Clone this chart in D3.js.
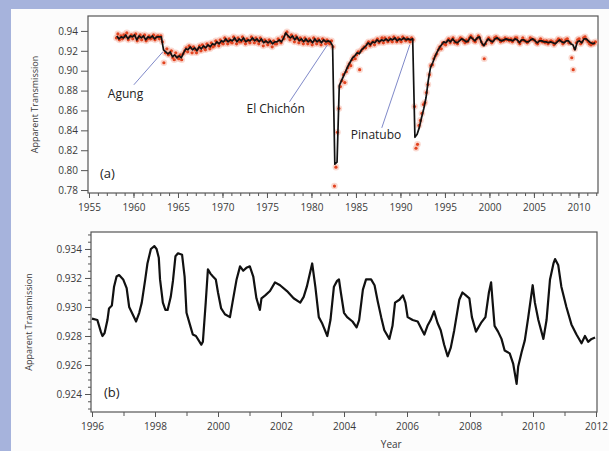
<!DOCTYPE html>
<html><head><meta charset="utf-8">
<script src="https://cdn.jsdelivr.net/npm/d3@7"></script>
<style>body{margin:0;background:#a6b3dc;} svg{display:block;font-family:"Open Sans",sans-serif;}</style>
</head><body><svg id="c" width="609" height="451"></svg>
<script>
// ---------- DATA ----------
// Panel (a): smoothed series, one row per year, 4 values (quarters), starting 1958
const lineStartYear = 1958;
const lineRows = [
[.935,.932,.934,.933],[.936,.932,.935,.934],[.936,.931,.935,.933],[.935,.931,.934,.933],[.935,.932,.934,.934],
[.934,.921,.919,.917],[.919,.914,.916,.913],[.915,.913,.918,.922],[.921,.924,.921,.923],[.920,.924,.922,.925],
[.923,.926,.924,.927],[.926,.929,.927,.930],[.929,.932,.929,.931],[.930,.933,.929,.932],[.930,.933,.929,.931],
[.930,.933,.930,.932],[.929,.932,.928,.930],[.928,.930,.927,.929],[.929,.931,.929,.933],[.938,.935,.933,.935],
[.931,.934,.930,.932],[.929,.932,.929,.931],[.928,.932,.929,.931],[.928,.931,.929,.930],[.929,.925,.806,.808],
[.885,.890,.895,.900],[.905,.909,.913,.915],[.918,.917,.921,.923],[.925,.928,.926,.929],[.928,.931,.929,.931],
[.930,.932,.930,.932],[.931,.933,.930,.932],[.931,.933,.931,.932],[.931,.932,.833,.836],[.843,.853,.862,.873],
[.890,.903,.908,.914],[.919,.923,.926,.929],[.928,.931,.929,.932],[.929,.928,.930,.932],[.931,.929,.930,.934],
[.932,.930,.933,.934],[.928,.925,.929,.932],[.930,.929,.932,.933],[.931,.930,.931,.932],[.931,.931,.930,.932],
[.931,.928,.931,.931],[.929,.929,.931,.932],[.930,.928,.930,.930],[.929,.929,.928,.929],[.928,.927,.929,.931],
[.929,.928,.930,.930],[.927,.926,.921,.929],[.930,.928,.932,.932],[.930,.928,.927,.928]
];
// Panel (a): individual observations, one row per year, 6 values (bi-monthly), starting 1958
const dotStartYear = 1958;
const dotRows = [
[.933,.937,.931,.935,.932,.936],[.934,.938,.931,.934,.936,.932],[.935,.937,.930,.933,.936,.931],
[.934,.936,.930,.932,.935,.932],[.933,.936,.931,.934,.935,.932],[.935,.929,.908,.918,.922,.916],
[.917,.920,.913,.911,.918,.914],[.912,.916,.911,.917,.920,.923],[.919,.925,.923,.918,.924,.921],
[.918,.922,.925,.920,.926,.923],[.921,.927,.925,.922,.928,.924],[.925,.930,.928,.925,.931,.928],
[.927,.933,.930,.927,.932,.929],[.928,.934,.931,.927,.933,.929],[.929,.934,.930,.927,.932,.930],
[.928,.934,.931,.928,.933,.930],[.927,.933,.930,.925,.931,.929],[.926,.931,.928,.924,.930,.927],
[.927,.932,.930,.928,.934,.932],[.937,.939,.934,.931,.936,.933],[.929,.935,.932,.928,.933,.930],
[.927,.933,.930,.927,.932,.929],[.926,.933,.930,.927,.932,.929],[.926,.932,.930,.927,.931,.928],
[.927,.930,.924,.784,.803,.838],[.862,.884,.890,.896,.888,.899],[.903,.907,.905,.911,.914,.912],
[.916,.919,.901,.920,.922,.924],[.923,.927,.929,.925,.928,.930],[.926,.930,.932,.928,.930,.933],
[.928,.933,.931,.929,.933,.931],[.929,.934,.932,.929,.933,.931],[.929,.934,.932,.930,.933,.931],
[.929,.933,.931,.864,.822,.826],[.845,.850,.857,.866,.868,.878],[.886,.896,.905,.906,.912,.915],
[.917,.921,.924,.922,.928,.927],[.926,.930,.932,.928,.931,.933],[.928,.930,.927,.931,.933,.932],
[.930,.928,.931,.929,.933,.935],[.933,.930,.929,.932,.935,.933],[.929,.926,.912,.927,.931,.933],
[.931,.928,.930,.933,.934,.932],[.932,.929,.931,.930,.933,.931],[.932,.930,.932,.929,.931,.933],
[.933,.929,.927,.930,.933,.930],[.930,.928,.930,.933,.932,.931],[.931,.928,.927,.930,.932,.929],
[.930,.928,.930,.927,.929,.930],[.929,.926,.928,.930,.932,.930],[.931,.927,.929,.931,.932,.928],
[.928,.913,.901,.922,.928,.931],[.932,.927,.929,.933,.934,.931],[.929,.927,.926,.928,.927,.929]
];
// Volcano annotations (eruption point on the curve)
const volcanoNames = ["Agung", "El Chichón", "Pinatubo"];
const volcanoYears = [1963.3, 1981.8, 1991.05];
const volcanoValues = [0.919, 0.926, 0.926];

// Panel (b): 1996-2012 detail
const bYears = [1996.0,1996.17,1996.28,1996.33,1996.4,1996.49,1996.54,1996.63,1996.7,1996.78,1996.86,1996.99,1997.1,1997.18,1997.29,1997.4,1997.5,1997.58,1997.69,1997.76,1997.87,1997.98,1998.05,1998.12,1998.16,1998.25,1998.33,1998.4,1998.5,1998.57,1998.65,1998.73,1998.86,1998.94,1999.0,1999.12,1999.2,1999.3,1999.47,1999.52,1999.61,1999.68,1999.76,1999.84,1999.93,2000.0,2000.1,2000.22,2000.38,2000.46,2000.59,2000.7,2000.8,2000.9,2001.01,2001.12,2001.22,2001.33,2001.38,2001.5,2001.65,2001.81,2001.97,2002.19,2002.4,2002.61,2002.72,2002.82,2002.99,
2003.09,2003.2,2003.3,2003.47,2003.57,2003.68,2003.78,2003.84,2003.9,2004.0,2004.1,2004.27,2004.4,2004.48,2004.6,2004.7,2004.86,2004.97,2005.07,2005.18,2005.28,2005.44,2005.54,2005.62,2005.76,2005.87,2005.95,2006.02,2006.18,2006.34,2006.48,2006.55,2006.65,2006.75,2006.86,2006.97,2007.07,2007.18,2007.29,2007.39,2007.5,2007.66,2007.76,2007.87,2007.98,2008.06,2008.19,2008.35,2008.49,2008.6,2008.67,2008.72,2008.78,2008.89,2009.0,2009.1,2009.26,2009.37,2009.48,2009.53,2009.64,2009.74,2009.85,2009.99,2010.06,2010.17,2010.33,2010.43,2010.54,2010.65,2010.7,2010.8,2010.9,2011.06,2011.22,2011.38,2011.54,2011.65,2011.75,2011.86,2011.97];
const bValues = [.9292,.9291,.9283,.9280,.9282,.9291,.9299,.9301,.9314,.9321,.9322,.9319,.9313,.9300,.9295,.9290,.9296,.9303,.9319,.9330,.9340,.9342,.9340,.9334,.9319,.9303,.9298,.9298,.9307,.9318,.9335,.9337,.9336,.9321,.9296,.9287,.9281,.9280,.9274,.9276,.9303,.9326,.9323,.9321,.9319,.9310,.9299,.9295,.9293,.9303,.9319,.9328,.9325,.9327,.9328,.9321,.9306,.9298,.9306,.9308,.9311,.9317,.9315,.9311,.9306,.9303,.9307,.9314,.9330,
.9314,.9293,.9289,.9280,.9291,.9314,.9318,.9319,.9310,.9296,.9293,.9290,.9286,.9291,.9312,.9319,.9319,.9315,.9304,.9293,.9284,.9278,.9287,.9303,.9305,.9308,.9303,.9293,.9291,.9290,.9284,.9281,.9287,.9291,.9297,.9289,.9284,.9274,.9266,.9272,.9284,.9305,.9310,.9308,.9306,.9293,.9283,.9289,.9293,.9310,.9317,.9303,.9287,.9283,.9278,.9270,.9268,.9261,.9247,.9259,.9269,.9277,.9293,.9315,.9303,.9291,.9278,.9291,.9319,.9330,.9333,.9329,.9314,.9300,.9288,.9281,.9275,.9280,.9276,.9278,.9279];

// Axis ticks
const aYTicks = [0.78,0.80,0.82,0.84,0.86,0.88,0.90,0.92,0.94];
const aXTicks = [1955,1960,1965,1970,1975,1980,1985,1990,1995,2000,2005,2010];
const bYTicks = [0.924,0.926,0.928,0.930,0.932,0.934];
const bXTicks = [1996,1998,2000,2002,2004,2006,2008,2010,2012];

// ---------- DRAW ----------
const W = 609, H = 451;
const svg = d3.select("#c");
svg.append("rect").attr("width", W).attr("height", H).attr("fill", "#a6b3dc");
svg.append("rect").attr("x", 11).attr("y", 9).attr("width", W - 11).attr("height", H - 9).attr("fill", "#fcfcfc");

const axisColor = "#555", textColor = "#3a3a3a";

function styleAxis(g, fs) {
  g.select(".domain").remove();
  g.selectAll("line").attr("stroke", axisColor).attr("stroke-width", 1);
  g.selectAll("text").attr("fill", textColor).style("font-size", fs + "px").style("font-family", '"Open Sans",sans-serif');
}

// ----- Panel a -----
const xA = d3.scaleLinear().domain([1955, 2012.2]).range([89, 598]);
const yA = d3.scaleLinear().domain([0.777, 0.955]).range([193, 16]);

const lineData = [];
lineRows.forEach((row, i) => row.forEach((v, k) => lineData.push([lineStartYear + i + 0.125 + 0.25 * k, v])));
const dotData = [];
dotRows.forEach((row, i) => row.forEach((v, k) => dotData.push([dotStartYear + i + (2 * k + 1) / 12, v])));

svg.append("rect").attr("x", xA.range()[0] - 1).attr("y", yA.range()[1])
  .attr("width", xA.range()[1] - xA.range()[0] + 1).attr("height", yA.range()[0] - yA.range()[1])
  .attr("fill", "#fff").attr("stroke", axisColor).attr("stroke-width", 1.2);

const gA = svg.append("g");
gA.selectAll("circle.halo").data(dotData).join("circle").attr("class", "halo")
  .attr("cx", d => xA(d[0])).attr("cy", d => yA(d[1])).attr("r", 3.3)
  .attr("fill", "#f3a08c").attr("opacity", 0.4);
gA.selectAll("circle.dot").data(dotData).join("circle").attr("class", "dot")
  .attr("cx", d => xA(d[0])).attr("cy", d => yA(d[1])).attr("r", 1.6)
  .attr("fill", "#e2431f");
gA.append("path").datum(lineData)
  .attr("d", d3.line().x(d => xA(d[0])).y(d => yA(d[1])))
  .attr("fill", "none").attr("stroke", "#111").attr("stroke-width", 1.7).attr("stroke-linejoin", "round");

// axes a
const yAxA = svg.append("g").attr("transform", `translate(${xA.range()[0] - 1},0)`)
  .call(d3.axisLeft(yA).tickValues(aYTicks).tickFormat(d3.format(".2f")).tickSize(7).tickPadding(3));
styleAxis(yAxA, 10);
const xMinA = svg.append("g").attr("transform", `translate(0,${yA.range()[0]})`)
  .call(d3.axisBottom(xA).tickValues(d3.range(1955, 2013)).tickFormat("").tickSize(3));
styleAxis(xMinA, 10);
const xAxA = svg.append("g").attr("transform", `translate(0,${yA.range()[0]})`)
  .call(d3.axisBottom(xA).tickValues(aXTicks).tickFormat(d3.format("d")).tickSize(5).tickPadding(6));
styleAxis(xAxA, 10);

svg.append("text").attr("transform", `translate(38,${(yA.range()[0] + yA.range()[1]) / 2}) rotate(-90)`)
  .attr("text-anchor", "middle").attr("fill", textColor).style("font-size", "9px").text("Apparent Transmission");
svg.append("text").attr("x", 100).attr("y", 178).attr("fill", "#222").style("font-size", "13px").text("(a)");

// annotations
const labelOffsets = [[-55, 46], [-81, 68], [-59, 94]];
const lineStartOffsets = [[-29, 33], [-38, 57], [-28, 83]];
volcanoNames.forEach((name, i) => {
  const px = xA(volcanoYears[i]), py = yA(volcanoValues[i]);
  svg.append("line").attr("x1", px + lineStartOffsets[i][0]).attr("y1", py + lineStartOffsets[i][1])
    .attr("x2", px).attr("y2", py).attr("stroke", "#7f89c9").attr("stroke-width", 1);
  svg.append("text").attr("x", px + labelOffsets[i][0]).attr("y", py + labelOffsets[i][1])
    .attr("fill", "#222").style("font-size", "12px").text(name);
});

// ----- Panel b -----
const xB = d3.scaleLinear().domain([1996, 2012]).range([92, 596]);
const yB = d3.scaleLinear().domain([0.92276, 0.93517]).range([412, 232]);

svg.append("rect").attr("x", xB.range()[0] - 1).attr("y", yB.range()[1])
  .attr("width", xB.range()[1] - xB.range()[0] + 2).attr("height", yB.range()[0] - yB.range()[1])
  .attr("fill", "#fff").attr("stroke", axisColor).attr("stroke-width", 1.2);

svg.append("path").datum(d3.zip(bYears, bValues))
  .attr("d", d3.line().x(d => xB(d[0])).y(d => yB(d[1])))
  .attr("fill", "none").attr("stroke", "#111").attr("stroke-width", 2.2).attr("stroke-linejoin", "round");

const yMinB = svg.append("g").attr("transform", `translate(${xB.range()[0] - 1},0)`)
  .call(d3.axisLeft(yB).tickValues(d3.range(0, 25).map(i => 0.923 + i * 0.0005).filter(v => v < 0.9351)).tickFormat("").tickSize(3));
styleAxis(yMinB, 10);
const yAxB = svg.append("g").attr("transform", `translate(${xB.range()[0] - 1},0)`)
  .call(d3.axisLeft(yB).tickValues(bYTicks).tickFormat(d3.format(".3f")).tickSize(6).tickPadding(3));
styleAxis(yAxB, 10);
const xMinB = svg.append("g").attr("transform", `translate(0,${yB.range()[0]})`)
  .call(d3.axisBottom(xB).tickValues(d3.range(1997, 2012, 2)).tickFormat("").tickSize(4));
styleAxis(xMinB, 10);
const xAxB = svg.append("g").attr("transform", `translate(0,${yB.range()[0]})`)
  .call(d3.axisBottom(xB).tickValues(bXTicks).tickFormat(d3.format("d")).tickSize(5).tickPadding(6));
styleAxis(xAxB, 10);

svg.append("text").attr("transform", `translate(32,${(yB.range()[0] + yB.range()[1]) / 2}) rotate(-90)`)
  .attr("text-anchor", "middle").attr("fill", textColor).style("font-size", "9px").text("Apparent Transmission");
svg.append("text").attr("x", xB(2005.5)).attr("y", 448).attr("text-anchor", "middle")
  .attr("fill", textColor).style("font-size", "10px").text("Year");
svg.append("text").attr("x", 104).attr("y", 397).attr("fill", "#222").style("font-size", "13px").text("(b)");
</script></body></html>
